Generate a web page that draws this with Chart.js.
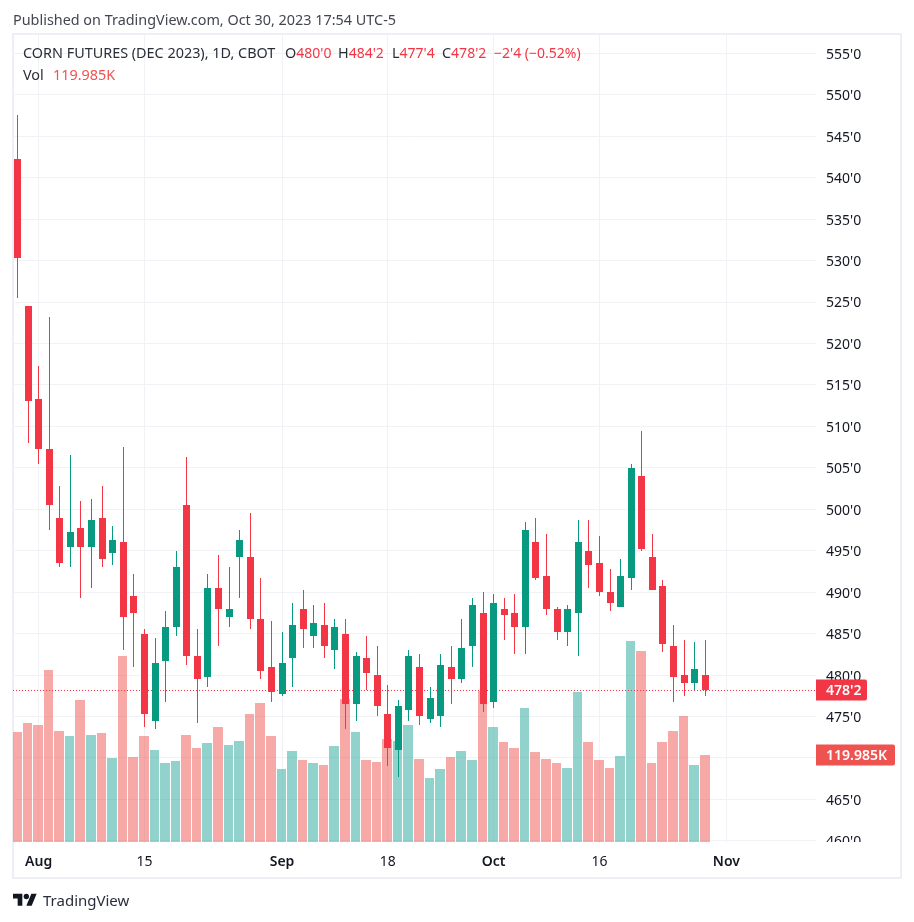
<!DOCTYPE html>
<html>
<head>
<meta charset="utf-8">
<script src="https://cdn.jsdelivr.net/npm/chart.js@4"></script>
<style>
  html, body { margin: 0; padding: 0; background: #fff; }
  body { width: 914px; height: 922px; position: relative; overflow: hidden; font-family: "Noto Sans", sans-serif; }
  .frame { position: absolute; left: 12px; top: 33px; width: 886px; height: 842px; border: 2px solid #eeeff5; }
  canvas { position: absolute; left: 0; top: 0; }
  .txt { position: absolute; font-size: 14.4px; line-height: 18px; white-space: nowrap; color: #2a2e39; }
  .red { color: #f23645; font-size: 14px; }
  .volred { color: #ef5350; }
  .logo { position: absolute; left: 13px; top: 891px; }
</style>
</head>
<body>
<div class="frame"></div>
<canvas id="chart" width="914" height="922"></canvas>
<div class="txt" style="left:13px;top:11px;color:#434651">Published on TradingView.com, Oct 30, 2023 17:54 UTC-5</div>
<div class="txt" style="left:23px;top:44px">CORN FUTURES (DEC 2023), 1D, CBOT</div>
<div class="txt" style="left:285px;top:44px">O<span class="red">480'0</span></div>
<div class="txt" style="left:338px;top:44px">H<span class="red">484'2</span></div>
<div class="txt" style="left:392px;top:44px">L<span class="red">477'4</span></div>
<div class="txt" style="left:442px;top:44px">C<span class="red">478'2</span></div>
<div class="txt red" style="left:494px;top:44px">−2'4 (−0.52%)</div>
<div class="txt" style="left:23px;top:66px">Vol</div>
<div class="txt volred" style="left:53px;top:66px">119.985K</div>
<svg class="logo" width="24" height="19" viewBox="0 0 36 28" fill="#131722"><path d="M14 22H7V11H0V4h14v18zM28 22h-8l7.5-18h8L28 22z"/><circle cx="20" cy="8" r="4"/></svg>
<div class="txt" style="left:43px;top:890px;font-size:15px;line-height:20px;color:#2a2e39">TradingView</div>
<script>
const dates = [
  '07-28', '07-31', '08-01', '08-02', '08-03', '08-04', '08-07', '08-08', '08-09', '08-10', '08-11',
  '08-14', '08-15', '08-16', '08-17', '08-18', '08-21', '08-22', '08-23', '08-24', '08-25',
  '08-28', '08-29', '08-30', '08-31', '09-01', '09-05', '09-06', '09-07', '09-08',
  '09-11', '09-12', '09-13', '09-14', '09-15', '09-18', '09-19', '09-20', '09-21', '09-22',
  '09-25', '09-26', '09-27', '09-28', '09-29', '10-02', '10-03', '10-04', '10-05', '10-06',
  '10-09', '10-10', '10-11', '10-12', '10-13', '10-16', '10-17', '10-18', '10-19', '10-20',
  '10-23', '10-24', '10-25', '10-26', '10-27', '10-30'
];
const opens = [
  542.25, 524.5, 513.25, 507.25, 499, 495.5, 497.75, 495.5, 499, 494.75, 496,
  489.5, 485, 474.5, 481.75, 485.75, 500.5, 482.25, 479.75, 490.5, 487,
  494.25, 494.25, 486.75, 481, 477.75, 482, 488, 484.75, 486, 483,
  485, 476.5, 482, 480, 475.25, 471, 475.75, 481, 474.75, 475,
  481, 479.5, 483.5, 487.5, 476.75, 488, 487.5, 485.75, 496,
  492, 488, 485.25, 487.5, 495, 493.5, 490, 488.25, 491.75, 504,
  494.25, 490.75, 483.5, 480, 479, 480
];
const highs = [
  547.5, 524.5, 517.25, 523.25, 502.75, 506.5, 501, 501.25, 502.75, 498, 507.5,
  492.25, 485.5, 484.5, 487.75, 495, 506.25, 485.5, 492.25, 494.5, 493,
  497.5, 499.5, 491.75, 486.5, 485.25, 488.75, 490.25, 488.5, 488.75, 486.75,
  486.75, 482.75, 484.75, 483.5, 478.75, 477, 483, 482.5, 478.5, 482.5,
  483.5, 486.75, 489.25, 490, 489.75, 489.25, 489.75, 498.5, 499,
  497, 488.25, 488.5, 498.75, 498.75, 496.75, 492.75, 494, 505.5, 509.5,
  497, 491.5, 486, 484.25, 484, 484.25
];
const lows = [
  525.5, 508, 505.5, 497.5, 493, 493, 489.25, 490.5, 493, 493.25, 483,
  481, 473.75, 473.5, 476.75, 484.75, 481.25, 474.25, 478.5, 483.5, 485.75,
  489.25, 485.5, 479.5, 476.75, 477.5, 478.5, 483.25, 483.25, 482, 480.75,
  473.5, 474.5, 478.25, 475, 469, 467.75, 474.5, 474, 474.25, 473.75,
  476.5, 479, 481, 475.5, 476, 484.25, 482.5, 482.5, 491.5,
  487.25, 484.25, 483.5, 482.25, 490.5, 489.5, 487.75, 488.25, 490.25, 495,
  490.25, 482.75, 476.75, 477.5, 478.25, 477.5
];
const closes = [
  530.25, 513, 507.25, 500.5, 493.5, 497.25, 495.5, 498.75, 494, 496.25, 487,
  487.5, 475.25, 481.5, 485.75, 493, 482.25, 479.5, 490.5, 488, 488,
  496.25, 486.75, 480.5, 478, 481.5, 486, 485.5, 486.25, 483.5, 485.75,
  476.5, 482.25, 480.25, 476.25, 471.25, 476.25, 482.25, 475, 477.25, 481.25,
  479.5, 483.25, 488.5, 476.5, 488.75, 487.25, 485.75, 497.5, 491.75,
  488, 485.25, 488, 496, 493.25, 490, 488.75, 492, 505, 495.25,
  490.25, 483.75, 479.75, 479, 480.75, 478.25
];
// volume in thousands of contracts
const volumes = [
  151.5, 163.9, 161.1, 236.5, 152.9, 146, 195.4, 147.4, 150.2, 115.9, 255.7,
  117.2, 146, 126.8, 109, 111.8, 147.4, 129.6, 136.4, 158.4, 133.7,
  139.2, 176.2, 191.3, 146, 100.8, 125.5, 113.1, 109, 106.3, 132.3,
  196.8, 151.5, 113.1, 110.4, 141.9, 139.2, 161.1, 114.5, 88.4, 100.8,
  117.2, 125.5, 113.1, 207.8, 158.4, 137.8, 129.6, 184.4, 124.1,
  114.5, 109, 102.2, 206.4, 137.8, 113.1, 102.2, 118.6, 276.3, 262.6,
  109, 137.8, 152.9, 173.5, 106.3, 119.985
];
const priceTicks = [460, 465, 470, 475, 480, 485, 490, 495, 500, 505, 510, 515, 520, 525, 530, 535, 540, 545, 550, 555];
const timeTicks = [2, 12, 25, 35, 45, 55, 67];
const timeLabels = ['Aug', '15', 'Sep', '18', 'Oct', '16', 'Nov'];
const monthLabels = ['Aug', 'Sep', 'Oct', 'Nov'];

const RED = '#f23645';
const GREEN = '#089981';
const GRID = '#f1f2f5';
const FONT = '"Noto Sans", sans-serif';

const isUp = dates.map((d, i) => closes[i] >= opens[i]);
const candleColors = isUp.map(up => up ? GREEN : RED);
const volumeColors = isUp.map(up => up ? 'rgba(38,166,154,0.5)' : 'rgba(239,83,80,0.5)');

// prices are quoted in eighths of a cent
function fmtPrice(v) {
  const whole = Math.floor(v);
  return whole + "'" + Math.round((v - whole) * 8);
}

function drawTag(ctx, text, y, right, color) {
  ctx.fillStyle = color;
  ctx.beginPath();
  ctx.roundRect(816, Math.round(y) - 10.5, right - 816, 21, [0, 2, 2, 0]);
  ctx.fill();
  ctx.fillStyle = '#fff';
  ctx.font = '600 14px ' + FONT;
  ctx.textAlign = 'left';
  ctx.textBaseline = 'middle';
  ctx.fillText(text, 826, Math.round(y) + 1);
}

// the original chart snaps its bars to whole pixels
const snapBars = {
  id: 'snapBars',
  afterDatasetsUpdate(chart) {
    const vols = chart.getDatasetMeta(0).data;
    const lefts = vols.map(el => Math.floor(el.x) - 5);
    vols.forEach((el, i) => {
      const right = i + 1 < lefts.length ? lefts[i + 1] - 1 : lefts[i] + 10;
      el.x = (lefts[i] + right) / 2;
      el.width = right - lefts[i];
      el.y = Math.round(el.y);
      el.base = Math.round(el.base);
    });
    [[1, 1], [2, 7]].forEach(([index, width]) => {
      chart.getDatasetMeta(index).data.forEach(el => {
        el.x = Math.floor(el.x) + 0.5;
        el.width = width;
        el.y = Math.round(el.y);
        el.base = Math.round(el.base);
      });
    });
  },
  beforeDraw(chart) {
    // nudge the price labels down so they sit on their grid lines like the original
    chart.scales.y.getLabelItems(chart.chartArea).forEach(item => {
      item.options.translation[1] += 1.5;
    });
  },
  beforeDatasetsDraw(chart) {
    // the lowest axis label is cut off at the bottom of the pane
    const { ctx, chartArea } = chart;
    ctx.fillStyle = '#fff';
    ctx.fillRect(chartArea.right, chartArea.bottom - 1, 84, 30);
  },
  afterDatasetDraw(chart, args) {
    if (args.index !== 0) return;
    const { ctx, chartArea } = chart;
    const y = Math.round(chart.scales.y.getPixelForValue(closes[closes.length - 1])) + 0.5;
    ctx.save();
    ctx.strokeStyle = RED;
    ctx.lineWidth = 1;
    ctx.setLineDash([1, 2]);
    ctx.beginPath();
    ctx.moveTo(chartArea.left, y);
    ctx.lineTo(chartArea.right, y);
    ctx.stroke();
    ctx.restore();
  },
  afterDraw(chart) {
    const { ctx, scales } = chart;
    const lastClose = closes[closes.length - 1];
    const lastVol = volumes[volumes.length - 1];
    ctx.save();
    drawTag(ctx, fmtPrice(lastClose), scales.y.getPixelForValue(lastClose), 867, RED);
    drawTag(ctx, lastVol.toFixed(3) + 'K', scales.vol.getPixelForValue(lastVol), 895, '#ef5350');
    ctx.restore();
  }
};

new Chart(document.getElementById('chart'), {
  type: 'bar',
  data: {
    datasets: [
      {
        label: 'Vol',
        yAxisID: 'vol',
        order: 3,
        data: volumes.map((v, i) => ({ x: i, y: v })),
        backgroundColor: volumeColors,
        barThickness: 9,
        inflateAmount: 0
      },
      {
        label: 'Wick',
        yAxisID: 'y',
        order: 2,
        data: dates.map((d, i) => ({ x: i, y: [lows[i], highs[i]] })),
        backgroundColor: candleColors,
        barThickness: 1,
        inflateAmount: 0
      },
      {
        label: 'Body',
        yAxisID: 'y',
        order: 1,
        data: dates.map((d, i) => ({ x: i, y: [opens[i], closes[i]] })),
        backgroundColor: candleColors,
        barThickness: 7,
        inflateAmount: 0
      }
    ]
  },
  plugins: [snapBars],
  options: {
    responsive: false,
    animation: false,
    layout: { padding: { left: 13, top: 35, right: 13, bottom: 44 } },
    datasets: { bar: { grouped: false } },
    plugins: { legend: { display: false }, tooltip: { enabled: false } },
    scales: {
      x: {
        type: 'linear',
        offset: false,
        min: -0.4253,
        max: 75.47,
        afterFit(scale) { scale.height = 35; },
        afterBuildTicks(scale) { scale.ticks = timeTicks.map(v => ({ value: v })); },
        grid: { color: GRID, drawTicks: false, offset: false },
        border: { display: false },
        ticks: {
          padding: 11,
          autoSkip: false,
          maxRotation: 0,
          color: '#131722',
          font: ctx => ({
            family: FONT,
            size: 14,
            weight: ctx.tick && monthLabels.includes(timeLabels[timeTicks.indexOf(ctx.tick.value)]) ? '600' : '400'
          }),
          callback: v => timeLabels[timeTicks.indexOf(v)]
        }
      },
      y: {
        position: 'right',
        min: 459.74,
        max: 557.21,
        afterFit(scale) { scale.width = 85; },
        afterBuildTicks(scale) { scale.ticks = priceTicks.map(v => ({ value: v })); },
        grid: { color: GRID, drawTicks: false },
        border: { display: false },
        ticks: {
          padding: 10,
          autoSkip: false,
          color: '#131722',
          font: { family: FONT, size: 14 },
          // 470 sits behind the volume tag in the original
          callback: v => v === 470 ? '' : fmtPrice(v)
        }
      },
      vol: {
        display: false,
        min: -0.69,
        max: 1107
      }
    }
  }
});
</script>
</body>
</html>
